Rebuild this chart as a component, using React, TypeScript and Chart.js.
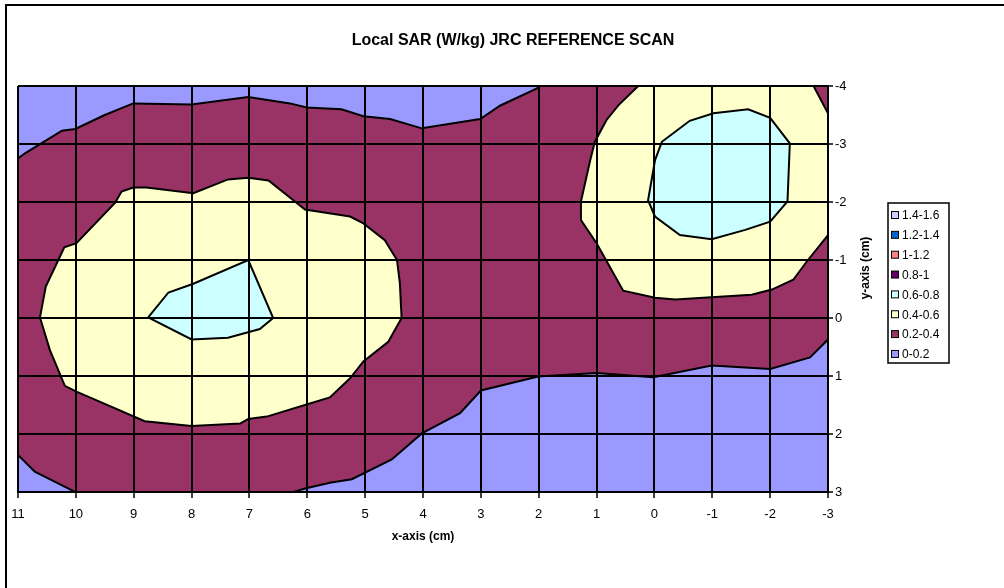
import React, { useEffect, useRef } from 'react';
import { Chart, registerables } from 'chart.js';

Chart.register(...registerables);

const TITLE = 'Local SAR (W/kg) JRC REFERENCE SCAN';
const X_TITLE = 'x-axis (cm)';
const Y_TITLE = 'y-axis (cm)';

const X_MIN = -3;
const X_MAX = 11;
const Y_MIN = -4;
const Y_MAX = 3;

const LEGEND_LABELS = ['1.4-1.6', '1.2-1.4', '1-1.2', '0.8-1', '0.6-0.8', '0.4-0.6', '0.2-0.4', '0-0.2'];
const LEGEND_COLORS = ['#CCCCFF', '#0066CC', '#FF8080', '#660066', '#CCFFFF', '#FFFFCC', '#993366', '#9999FF'];

type P = [number, number];

// Contour region outlines (x cm, y cm).
const blueTopLeft: P[] = [
  [11, -4], [11, -2.75], [10.88, -2.84], [10.24, -3.23], [10.01, -3.26], [9.5, -3.5], [9.01, -3.7],
  [8.0, -3.68], [7.02, -3.81], [6.3, -3.7], [6.01, -3.63], [5.41, -3.6], [5.03, -3.48], [4.57, -3.43],
  [4.02, -3.27], [3.01, -3.43], [2.67, -3.66], [2.03, -3.96], [1.98, -4],
];
const blueBottomLeft: P[] = [[11, 2.36], [10.71, 2.65], [10.01, 3.0], [11, 3]];
const blueBottom: P[] = [
  [6.24, 3.0], [6.04, 2.94], [5.61, 2.84], [5.23, 2.78], [4.54, 2.44], [4.02, 1.99], [3.36, 1.64],
  [3.0, 1.25], [2.01, 1.01], [1.0, 0.95], [0.02, 1.02], [-0.99, 0.82], [-2.0, 0.88], [-2.69, 0.68],
  [-3, 0.37], [-3, 3],
];
const yellowLeft: P[] = [
  [9.01, -2.25], [9.21, -2.18], [9.32, -1.99], [9.99, -1.29], [10.2, -1.22], [10.36, -0.88],
  [10.52, -0.54], [10.62, -0.01], [10.45, 0.55], [10.19, 1.17], [9.99, 1.27], [9.41, 1.52],
  [8.81, 1.78], [8.0, 1.86], [7.16, 1.82], [7.02, 1.74], [6.7, 1.7], [6.04, 1.5], [5.61, 1.37],
  [5.26, 1.04], [5.03, 0.75], [4.6, 0.41], [4.37, 0.0], [4.4, -0.6], [4.45, -1.0], [4.66, -1.34],
  [5.03, -1.63], [5.26, -1.75], [6.04, -1.87], [6.67, -2.37], [7.02, -2.42], [7.37, -2.39],
  [7.97, -2.15], [8.78, -2.25],
];
const cyanLeft: P[] = [
  [8.75, -0.01], [8.4, -0.44], [7.97, -0.59], [7.02, -1.0], [6.59, 0.0], [6.82, 0.19], [7.37, 0.34], [8.0, 0.37],
];
const yellowRight: P[] = [
  [0.28, -4], [0.62, -3.67], [0.83, -3.41], [1.03, -3.04], [1.11, -2.72], [1.27, -2.01], [1.27, -1.69],
  [1.0, -1.29], [0.77, -0.88], [0.54, -0.47], [-0.01, -0.35], [-0.36, -0.32], [-1.68, -0.4],
  [-2.03, -0.49], [-2.4, -0.66], [-2.63, -0.97], [-3, -1.43], [-3, -3.53], [-2.75, -4],
];
const cyanRight: P[] = [
  [-0.13, -3.04], [-0.61, -3.4], [-1.02, -3.53], [-1.62, -3.6], [-2.0, -3.45], [-2.34, -3.01],
  [-2.3, -2.01], [-2.0, -1.66], [-1.57, -1.52], [-0.99, -1.36], [-0.44, -1.43], [-0.01, -1.75],
  [0.11, -2.03], [-0.01, -2.72],
];

// Drawn top-first (Chart.js paints the last dataset first).
const REGIONS: { poly: P[]; band: string }[] = [
  { poly: cyanLeft, band: '0.6-0.8' },
  { poly: cyanRight, band: '0.6-0.8' },
  { poly: yellowLeft, band: '0.4-0.6' },
  { poly: yellowRight, band: '0.4-0.6' },
  { poly: blueTopLeft, band: '0-0.2' },
  { poly: blueBottomLeft, band: '0-0.2' },
  { poly: blueBottom, band: '0-0.2' },
];
const BACKGROUND_BAND = '0.2-0.4';

const FONT = '"Liberation Sans", Arial, sans-serif';

const bandColor = (b: string) => LEGEND_COLORS[LEGEND_LABELS.indexOf(b)];

const decorPlugin = {
  id: 'decor',
  beforeDraw(chart: any) {
    const { ctx, chartArea: a, width, height } = chart;
    ctx.save();
    ctx.fillStyle = '#ffffff';
    ctx.fillRect(0, 0, width, height);
    ctx.fillStyle = bandColor(BACKGROUND_BAND);
    ctx.fillRect(a.left, a.top, a.right - a.left, a.bottom - a.top);
    ctx.restore();
  },
  afterDraw(chart: any) {
    const { ctx, chartArea: a } = chart;
    ctx.save();
    // outer frame
    ctx.strokeStyle = '#000';
    ctx.lineWidth = 2;
    ctx.beginPath();
    ctx.moveTo(6, chart.height + 2);
    ctx.lineTo(6, 5);
    ctx.lineTo(chart.width + 2, 5);
    ctx.stroke();

    ctx.fillStyle = '#000';
    ctx.textAlign = 'center';
    ctx.textBaseline = 'middle';
    ctx.font = `bold 16px ${FONT}`;
    ctx.fillText(TITLE, 513, 41);

    ctx.font = `bold 12px ${FONT}`;
    ctx.fillText(X_TITLE, (a.left + a.right) / 2, 537);

    ctx.save();
    ctx.translate(866, 268);
    ctx.rotate(-Math.PI / 2);
    ctx.fillText(Y_TITLE, 0, 0);
    ctx.restore();

    // legend
    const lx = 888, ly = 203, lw = 61, lh = 160;
    ctx.fillStyle = '#fff';
    ctx.fillRect(lx, ly, lw, lh);
    ctx.lineWidth = 1.5;
    ctx.strokeStyle = '#000';
    ctx.strokeRect(lx, ly, lw, lh);
    ctx.font = `12px ${FONT}`;
    ctx.textAlign = 'left';
    LEGEND_LABELS.forEach((lab, i) => {
      const cy = 215 + i * 19.85;
      ctx.fillStyle = LEGEND_COLORS[i];
      ctx.fillRect(891.5, cy - 3.5, 7, 7);
      ctx.lineWidth = 1;
      ctx.strokeStyle = '#000';
      ctx.strokeRect(891.5, cy - 3.5, 7, 7);
      ctx.fillStyle = '#000';
      ctx.fillText(lab, 902, cy + 1);
    });
    ctx.restore();
  },
};

export default function App() {
  const ref = useRef<HTMLCanvasElement | null>(null);
  useEffect(() => {
    if (!ref.current) return;
    const datasets = REGIONS.map((r, i) => ({
      label: r.band + '-' + i,
      data: [...r.poly, r.poly[0]].map(([x, y]) => ({ x, y })),
      showLine: true,
      fill: 'shape',
      backgroundColor: bandColor(r.band),
      borderColor: '#000',
      borderWidth: 2,
      pointRadius: 0,
      tension: 0,
    }));
    const chart = new Chart(ref.current, {
      type: 'scatter',
      data: { datasets: datasets as any },
      options: {
        animation: false,
        responsive: false,
        devicePixelRatio: 1,
        layout: { padding: { left: 18, top: 86, right: 136, bottom: 56 } },
        plugins: {
          legend: { display: false },
          tooltip: { enabled: false },
          title: { display: false },
        },
        scales: {
          x: {
            type: 'linear',
            min: X_MIN,
            max: X_MAX,
            reverse: true,
            afterFit: (s: any) => { s.height = 40; },
            grid: { z: 1, color: '#000', lineWidth: 2, tickLength: 6, tickColor: '#000', tickWidth: 1.5 },
            border: { z: 1, display: true, color: '#000', width: 2 },
            ticks: {
              z: 1,
              stepSize: 1,
              autoSkip: false,
              maxRotation: 0,
              padding: 9,
              color: '#000',
              font: { family: FONT, size: 13 },
            },
          },
          y: {
            type: 'linear',
            position: 'right',
            min: Y_MIN,
            max: Y_MAX,
            reverse: true,
            afterFit: (s: any) => { s.width = 40; },
            grid: { z: 1, color: '#000', lineWidth: 2, tickLength: 5, tickColor: '#000', tickWidth: 1.5 },
            border: { z: 1, display: true, color: '#000', width: 2 },
            ticks: {
              z: 1,
              stepSize: 1,
              autoSkip: false,
              padding: 2,
              color: '#000',
              font: { family: FONT, size: 13 },
            },
          },
        },
      },
      plugins: [decorPlugin],
    });
    return () => chart.destroy();
  }, []);
  return (
    <div style={{ position: 'fixed', left: 0, top: 0, width: 1004, height: 588, background: '#fff' }}>
      <canvas ref={ref} width={1004} height={588} style={{ display: 'block' }} />
    </div>
  );
}
